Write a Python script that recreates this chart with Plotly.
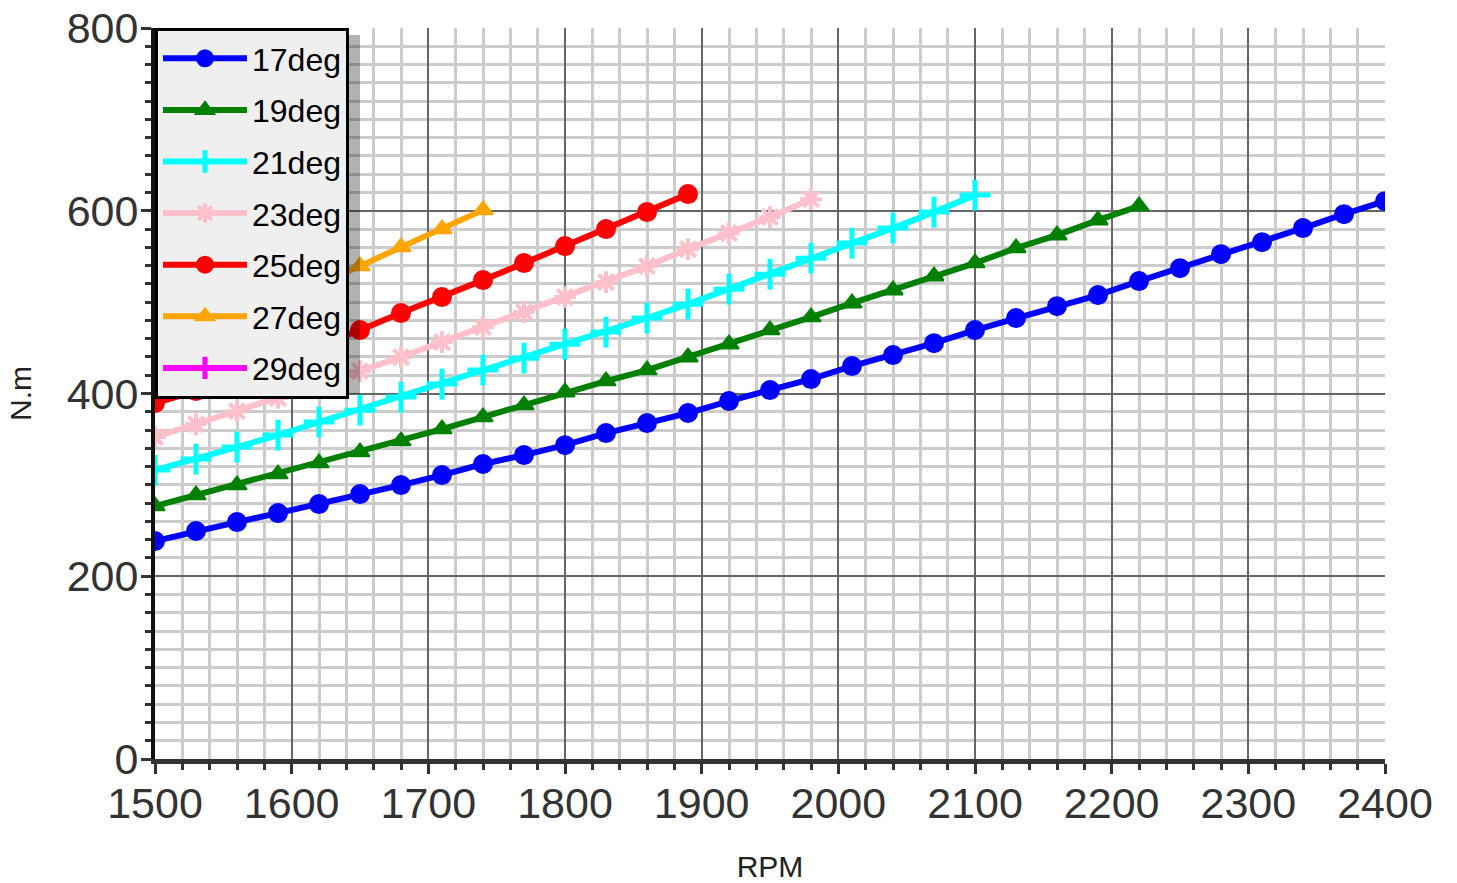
import plotly.graph_objects as go

rpm_start = 1500
rpm_step = 30

names = ["17deg", "19deg", "21deg", "23deg", "25deg", "27deg", "29deg"]

torque_17 = [238.5, 249.5, 259.3, 269.1, 279.0, 289.9, 299.8, 310.7, 322.8, 332.6,
             343.5, 356.7, 367.6, 378.6, 391.7, 403.7, 415.8, 430.0, 442.0, 455.1,
             469.4, 482.5, 495.6, 507.7, 523.0, 537.2, 552.5, 565.6, 581.0, 596.3, 610.5]
torque_19 = [276.8, 288.8, 299.8, 311.8, 323.9, 335.9, 347.9, 361.1, 374.2, 387.3,
             401.5, 413.6, 425.6, 439.8, 454.0, 469.4, 483.6, 498.9, 513.1, 528.4,
             542.7, 559.1, 573.3, 589.7, 605.0]
torque_21 = [316.2, 328.2, 341.4, 354.5, 368.7, 381.8, 396.1, 410.3, 425.6, 438.7,
             454.0, 467.2, 482.5, 497.8, 514.2, 530.6, 548.1, 564.6, 581.0, 598.5, 617.1]
torque_23 = [352.3, 366.5, 380.7, 395.0, 410.3, 424.5, 439.8, 456.2, 472.6, 489.1,
             505.5, 521.9, 539.4, 558.0, 575.5, 593.0, 612.7]
torque_25 = [389.5, 402.6, 419.0, 435.4, 453.0, 469.4, 488.0, 505.5, 524.1, 542.7,
             561.3, 579.9, 598.5, 618.2]
torque_27 = [445.3, 462.8, 481.4, 501.1, 519.7, 539.4, 560.2, 579.9, 600.7]
torque_29 = [545.0, 566.0, 588.0, 610.0]

series = [torque_17, torque_19, torque_21, torque_23, torque_25, torque_27, torque_29]
colors = ["#0000ff", "#008000", "#00ffff", "#ffc0cb", "#ff0000", "#ffa500", "#ff00ff"]
symbols = ["circle", "triangle-up", "cross-thin", "asterisk", "circle", "triangle-up", "cross-thin"]
sizes = [18, 17, 22, 18, 18, 17, 22]
mlw = [2, 2, 5, 4, 2, 2, 5]

fig = go.Figure()
for i, (name, vals) in enumerate(zip(names, series)):
    xs = [rpm_start + rpm_step * k for k in range(len(vals))]
    fig.add_trace(go.Scatter(
        x=xs, y=vals, name=name, mode="lines+markers", legendgroup=name,
        line=dict(color=colors[i], width=6),
        marker=dict(symbol=symbols[i], size=sizes[i], color=colors[i],
                    line=dict(color=colors[i], width=mlw[i])),
    ))

# plot area: 1230 x 731 px
PW, PH = 1230, 731
# legend shadow (right edge)
fig.add_shape(type="rect", xref="paper", yref="paper",
              x0=150 / PW, x1=205 / PW,
              y0=1 - 366 / PH, y1=1 - 7 / PH,
              fillcolor="rgba(0,0,0,0.3)", line=dict(width=0), layer="above")

axis_font = dict(family="Liberation Sans, Arial, sans-serif", size=43, color="#333333")
fig.update_layout(
    width=1457, height=883,
    margin=dict(l=155, r=72, t=28, b=124),
    paper_bgcolor="white", plot_bgcolor="white",
    font=dict(family="Liberation Sans, Arial, sans-serif"),
    showlegend=True,
    legend=dict(x=0, y=1, xanchor="left", yanchor="top",
                bgcolor="#efefef", bordercolor="black", borderwidth=3,
                font=dict(size=32, color="black", family="Liberation Sans, Arial, sans-serif"),
                tracegroupgap=7, itemwidth=84),
    xaxis=dict(range=[1500, 2400], dtick=100, tick0=1500, automargin=False,
               showgrid=True, gridcolor="#666666", gridwidth=2,
               showline=True, linecolor="#333333", linewidth=5,
               ticks="outside", ticklen=10, tickwidth=3, tickcolor="#333333",
               tickfont=axis_font, zeroline=False, ticklabelstandoff=-8,
               ticklabeloverflow="allow",
               minor=dict(dtick=20, showgrid=True, gridcolor="#cccccc", gridwidth=3,
                          ticks="outside", ticklen=6, tickwidth=3, tickcolor="#333333"),
               title=dict(text="RPM", font=dict(size=30, color="#222222"), standoff=44)),
    yaxis=dict(range=[0, 800], dtick=200, tick0=0, automargin=False,
               showgrid=True, gridcolor="#666666", gridwidth=2,
               showline=True, linecolor="#111111", linewidth=4,
               ticks="outside", ticklen=10, tickwidth=3, tickcolor="#333333",
               tickfont=axis_font, zeroline=False, ticklabelstandoff=-6,
               ticklabeloverflow="allow",
               minor=dict(dtick=20, showgrid=True, gridcolor="#cccccc", gridwidth=3,
                          ticks="outside", ticklen=6, tickwidth=3, tickcolor="#333333"),
               title=dict(text="N.m", font=dict(size=30, color="#222222"), standoff=27)),
)

fig.write_html("out.html", config={"displayModeBar": False},
               post_script="document.body.style.margin='0px';")
